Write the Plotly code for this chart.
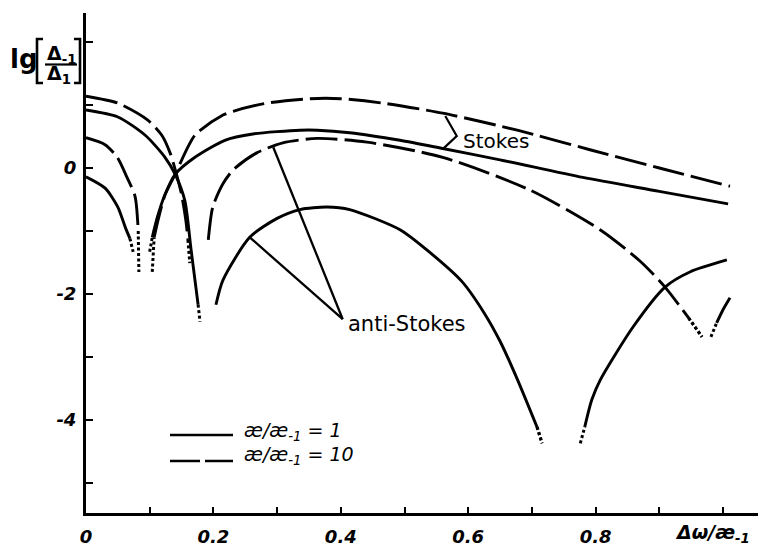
import plotly.graph_objects as go

# ---------------- data ----------------
# kappa/kappa_-1 = 1  (solid) -- Stokes
stokes_k1_a_x = [0.0, 0.030, 0.050, 0.062, 0.069]
stokes_k1_a_y = [-0.14, -0.32, -0.62, -0.95, -1.12]
stokes_k1_a_dot_x = [0.069, 0.074]
stokes_k1_a_dot_y = [-1.12, -1.33]
stokes_k1_b_dot_x = [0.100, 0.104]
stokes_k1_b_dot_y = [-1.33, -1.10]
stokes_k1_b_x = [0.104, 0.112, 0.124, 0.140, 0.171, 0.218, 0.262, 0.336, 0.363, 0.414, 0.493, 0.560, 0.650, 0.780, 0.900, 1.008]
stokes_k1_b_y = [-1.10, -0.78, -0.42, -0.10, 0.17, 0.44, 0.54, 0.60, 0.60, 0.56, 0.44, 0.31, 0.13, -0.15, -0.37, -0.57]

# kappa/kappa_-1 = 1  (solid) -- anti-Stokes
anti_k1_a_x = [0.0, 0.050, 0.093, 0.124, 0.140, 0.155, 0.165, 0.176]
anti_k1_a_y = [0.92, 0.81, 0.52, 0.17, -0.10, -0.51, -1.30, -2.17]
anti_k1_a_dot_x = [0.176, 0.179]
anti_k1_a_dot_y = [-2.17, -2.44]
anti_k1_b_dot_x = [0.199, 0.204]
anti_k1_b_dot_y = [-2.44, -2.17]
anti_k1_b_x = [0.204, 0.215, 0.257, 0.300, 0.336, 0.378, 0.414, 0.493, 0.535, 0.590, 0.625, 0.650, 0.677, 0.708]
anti_k1_b_y = [-2.17, -1.78, -1.10, -0.80, -0.66, -0.62, -0.66, -0.98, -1.30, -1.80, -2.30, -2.75, -3.35, -4.11]
anti_k1_b_dot_x = [0.708, 0.716]
anti_k1_b_dot_y = [-4.11, -4.37]
anti_k1_c_dot_x = [0.776, 0.783]
anti_k1_c_dot_y = [-4.37, -4.11]
anti_k1_c_x = [0.783, 0.794, 0.807, 0.859, 0.909, 0.948, 1.006]
anti_k1_c_y = [-4.11, -3.68, -3.37, -2.52, -1.89, -1.65, -1.46]

# kappa/kappa_-1 = 10 (dashed) -- Stokes
stokes_k10_a_x = [0.0, 0.030, 0.049, 0.064, 0.077, 0.082]
stokes_k10_a_y = [0.48, 0.37, 0.17, -0.14, -0.45, -1.00]
stokes_k10_a_dot_x = [0.082, 0.083]
stokes_k10_a_dot_y = [-1.00, -1.65]
stokes_k10_b_dot_x = [0.104, 0.107]
stokes_k10_b_dot_y = [-1.65, -1.10]
stokes_k10_b_x = [0.107, 0.113, 0.124, 0.140, 0.171, 0.215, 0.231, 0.284, 0.352, 0.400, 0.466, 0.560, 0.677, 0.791, 0.900, 1.011]
stokes_k10_b_y = [-1.10, -0.83, -0.43, -0.10, 0.52, 0.84, 0.90, 1.03, 1.10, 1.10, 1.03, 0.87, 0.60, 0.29, 0.00, -0.29]

# kappa/kappa_-1 = 10 (dashed) -- anti-Stokes
anti_k10_a_x = [0.0, 0.050, 0.097, 0.119, 0.132, 0.141, 0.150, 0.157, 0.160]
anti_k10_a_y = [1.14, 1.03, 0.76, 0.52, 0.24, -0.06, -0.42, -0.85, -1.14]
anti_k10_a_dot_x = [0.160, 0.163]
anti_k10_a_dot_y = [-1.14, -1.51]
anti_k10_b_dot_x = [0.190, 0.192]
anti_k10_b_dot_y = [-1.51, -1.14]
anti_k10_b_x = [0.192, 0.199, 0.215, 0.231, 0.268, 0.309, 0.363, 0.441, 0.560, 0.697, 0.807, 0.870, 0.909, 0.946]
anti_k10_b_y = [-1.14, -0.62, -0.25, -0.03, 0.24, 0.40, 0.47, 0.41, 0.17, -0.35, -0.98, -1.48, -1.89, -2.38]
anti_k10_b_dot_x = [0.946, 0.967]
anti_k10_b_dot_y = [-2.38, -2.68]
anti_k10_c_dot_x = [0.981, 0.990]
anti_k10_c_dot_y = [-2.68, -2.46]
anti_k10_c_x = [0.990, 1.000, 1.011]
anti_k10_c_y = [-2.46, -2.25, -2.06]

# axis ticks
x_tick_vals = [0.0, 0.2, 0.4, 0.6, 0.8]
x_tick_text = ["0", "0.2", "0.4", "0.6", "0.8"]
x_minor_vals = [0.1, 0.3, 0.5, 0.7, 0.9, 1.0]
y_tick_vals = [-4, -2, 0]
y_tick_text = ["-4", "-2", "0"]
y_minor_vals = [-5, -3, -1, 1, 2]

# ---------------- figure ----------------
W, H = 758, 547
L, R, T, B = 86, 0, 13, 34
X_RANGE = [0, (W - L - R) / 637.0]
Y_RANGE = [-(H - B - 168) / 63.0, (168 - T) / 63.0]


def px(xp):
    return (xp - L) / (W - L - R)


def py(yp):
    return (H - B - yp) / (H - T - B)


fig = go.Figure()
DASH = "32px,7px"
DOT = "3px,2.5px"
LW = 2.9


def branch(x, y, dash, name):
    fig.add_trace(go.Scatter(
        x=x, y=y, mode="lines", name=name, showlegend=False, hoverinfo="skip",
        line=dict(color="black", width=LW, dash=dash, shape="spline", smoothing=0.7)))


def dotted(x, y, name):
    fig.add_trace(go.Scatter(
        x=x, y=y, mode="lines", name=name, showlegend=False, hoverinfo="skip",
        line=dict(color="black", width=3, dash=DOT)))


# solid κ/κ-1 = 1
branch(stokes_k1_a_x, stokes_k1_a_y, "solid", "Stokes, 1")
dotted(stokes_k1_a_dot_x, stokes_k1_a_dot_y, "Stokes, 1")
dotted(stokes_k1_b_dot_x, stokes_k1_b_dot_y, "Stokes, 1")
branch(stokes_k1_b_x, stokes_k1_b_y, "solid", "Stokes, 1")
branch(anti_k1_a_x, anti_k1_a_y, "solid", "anti-Stokes, 1")
dotted(anti_k1_a_dot_x, anti_k1_a_dot_y, "anti-Stokes, 1")
dotted(anti_k1_b_dot_x, anti_k1_b_dot_y, "anti-Stokes, 1")
branch(anti_k1_b_x, anti_k1_b_y, "solid", "anti-Stokes, 1")
dotted(anti_k1_b_dot_x, anti_k1_b_dot_y, "anti-Stokes, 1")
dotted(anti_k1_c_dot_x, anti_k1_c_dot_y, "anti-Stokes, 1")
branch(anti_k1_c_x, anti_k1_c_y, "solid", "anti-Stokes, 1")

# dashed κ/κ-1 = 10
branch(stokes_k10_a_x, stokes_k10_a_y, DASH, "Stokes, 10")
dotted(stokes_k10_a_dot_x, stokes_k10_a_dot_y, "Stokes, 10")
dotted(stokes_k10_b_dot_x, stokes_k10_b_dot_y, "Stokes, 10")
branch(stokes_k10_b_x, stokes_k10_b_y, DASH, "Stokes, 10")
branch(anti_k10_a_x, anti_k10_a_y, DASH, "anti-Stokes, 10")
dotted(anti_k10_a_dot_x, anti_k10_a_dot_y, "anti-Stokes, 10")
dotted(anti_k10_b_dot_x, anti_k10_b_dot_y, "anti-Stokes, 10")
branch(anti_k10_b_x, anti_k10_b_y, DASH, "anti-Stokes, 10")
dotted(anti_k10_b_dot_x, anti_k10_b_dot_y, "anti-Stokes, 10")
dotted(anti_k10_c_dot_x, anti_k10_c_dot_y, "anti-Stokes, 10")
branch(anti_k10_c_x, anti_k10_c_y, DASH, "anti-Stokes, 10")

TXT = "black"
FONT = "DejaVu Sans"

shapes = [
    # Stokes bracket
    dict(type="path", xref="x", yref="y",
         path="M 0.564 0.825 L 0.582 0.508 L 0.560 0.300",
         line=dict(color="black", width=2.2)),
    # anti-Stokes pointers
    dict(type="line", xref="x", yref="y", x0=0.403, y0=-2.40, x1=0.294, y1=0.33,
         line=dict(color="black", width=2.3)),
    dict(type="line", xref="x", yref="y", x0=0.403, y0=-2.40, x1=0.257, y1=-1.10,
         line=dict(color="black", width=2.3)),
    # legend samples
    dict(type="line", xref="paper", yref="paper", x0=px(170), y0=py(435), x1=px(233), y1=py(435),
         line=dict(color="black", width=2.7)),
    dict(type="line", xref="paper", yref="paper", x0=px(170), y0=py(461), x1=px(233), y1=py(461),
         line=dict(color="black", width=2.7, dash="30px,5px")),
    # y-label brackets and fraction bar
    dict(type="path", xref="paper", yref="paper",
         path=f"M {px(43)} {py(39)} L {px(37)} {py(39)} L {px(37)} {py(83)} L {px(43)} {py(83)}",
         line=dict(color="black", width=2.6)),
    dict(type="path", xref="paper", yref="paper",
         path=f"M {px(74)} {py(39)} L {px(80)} {py(39)} L {px(80)} {py(83)} L {px(74)} {py(83)}",
         line=dict(color="black", width=2.6)),
    dict(type="line", xref="paper", yref="paper", x0=px(45), y0=py(64.5), x1=px(77), y1=py(64.5),
         line=dict(color="black", width=2.2)),
]

annotations = [
    dict(text="lg", x=px(24), y=py(59), xref="paper", yref="paper", showarrow=False,
         xanchor="center", yanchor="middle", font=dict(family=FONT, size=26, color=TXT, weight="bold")),
    dict(text="Δ<sub>-1</sub>", x=px(45), y=py(55), xref="paper", yref="paper", showarrow=False,
         xanchor="left", yanchor="middle", font=dict(family=FONT, size=19, color=TXT, weight="bold")),
    dict(text="Δ<sub>1</sub>", x=px(45), y=py(74), xref="paper", yref="paper", showarrow=False,
         xanchor="left", yanchor="middle", font=dict(family=FONT, size=19, color=TXT, weight="bold")),
    dict(text="Stokes", x=px(461), y=py(141), xref="paper", yref="paper", showarrow=False,
         xanchor="left", yanchor="middle", font=dict(family=FONT, size=20, color=TXT)),
    dict(text="anti-Stokes", x=px(346), y=py(324), xref="paper", yref="paper", showarrow=False,
         xanchor="left", yanchor="middle", font=dict(family=FONT, size=21, color=TXT)),
    dict(text="æ/æ<sub>-1</sub> = 1", x=px(242), y=py(431), xref="paper", yref="paper", showarrow=False,
         xanchor="left", yanchor="middle", font=dict(family=FONT, size=19, color=TXT, style="italic")),
    dict(text="æ/æ<sub>-1</sub> = 10", x=px(242), y=py(455), xref="paper", yref="paper", showarrow=False,
         xanchor="left", yanchor="middle", font=dict(family=FONT, size=19, color=TXT, style="italic")),
    dict(text="Δω/æ<sub>-1</sub>", x=px(712), y=py(533), xref="paper", yref="paper", showarrow=False,
         xanchor="center", yanchor="middle",
         font=dict(family=FONT, size=19, color=TXT, style="italic", weight="bold")),
]

fig.update_layout(
    width=W, height=H,
    margin=dict(l=L, r=R, t=T, b=B, pad=0),
    paper_bgcolor="white", plot_bgcolor="white",
    showlegend=False,
    shapes=shapes, annotations=annotations,
    xaxis=dict(range=X_RANGE, showgrid=False, zeroline=False, showline=True, linecolor="black",
               linewidth=3, ticks="inside", ticklen=6, tickwidth=2, tickcolor="black",
               tickmode="array", tickvals=x_tick_vals, ticktext=x_tick_text, ticklabelstandoff=5,
               minor=dict(tickmode="array", tickvals=x_minor_vals, ticks="inside", ticklen=6,
                          tickwidth=2, tickcolor="black", showgrid=False),
               tickfont=dict(family=FONT, size=18, color=TXT, style="italic", weight="bold")),
    yaxis=dict(range=Y_RANGE, showgrid=False, zeroline=False, showline=True, linecolor="black",
               linewidth=3, ticks="inside", ticklen=7, tickwidth=2, tickcolor="black",
               tickmode="array", tickvals=y_tick_vals, ticktext=y_tick_text, ticklabelstandoff=3,
               minor=dict(tickmode="array", tickvals=y_minor_vals, ticks="inside", ticklen=7,
                          tickwidth=2, tickcolor="black", showgrid=False),
               tickfont=dict(family=FONT, size=18, color=TXT, style="italic", weight="bold")),
)

fig.write_html("out.html")
